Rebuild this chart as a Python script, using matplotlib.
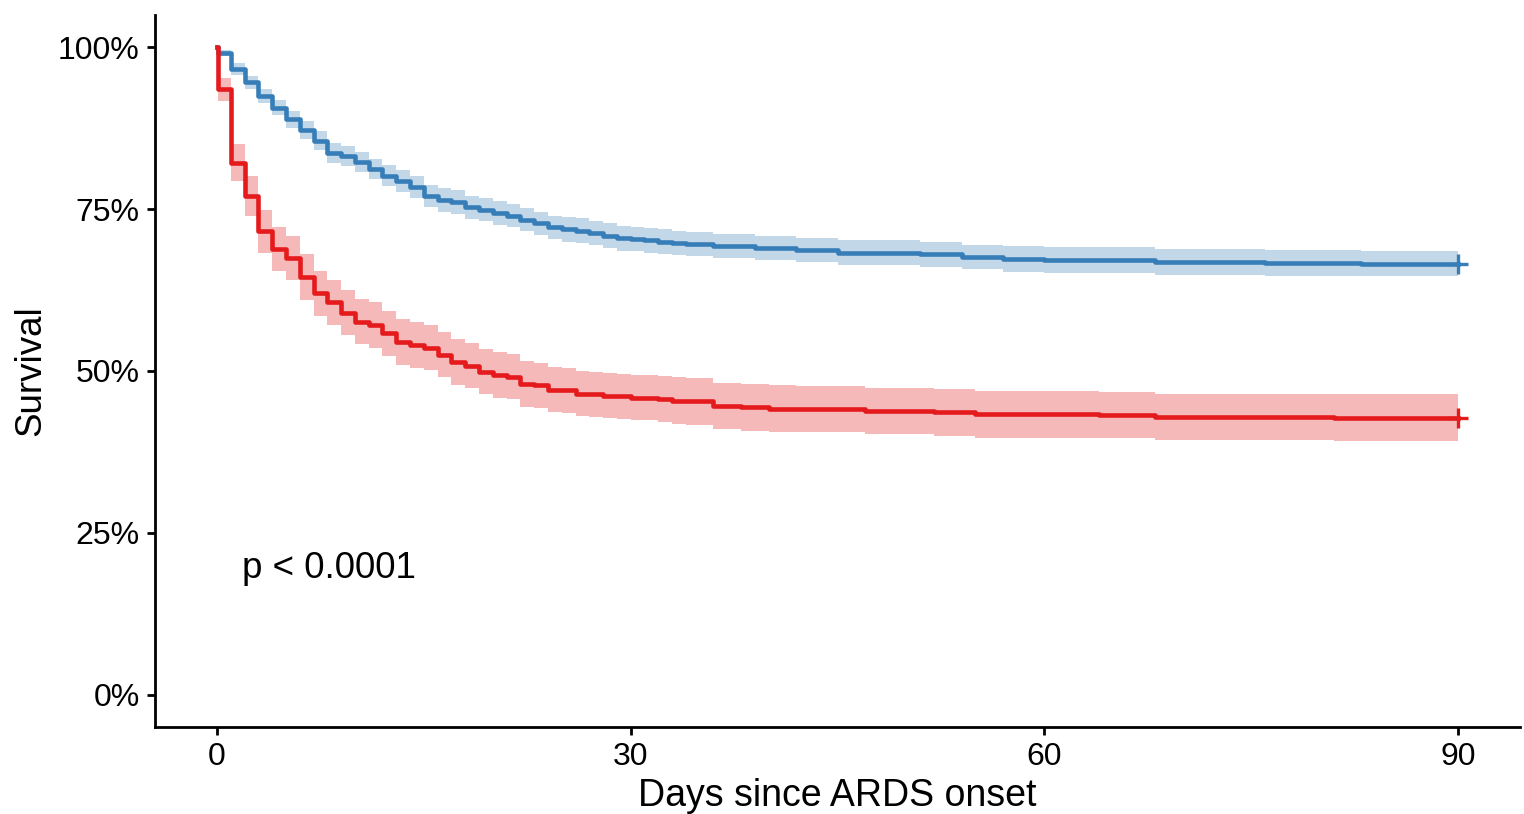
import matplotlib.pyplot as plt
import numpy as np

plt.rcParams['font.family'] = ['Liberation Sans', 'DejaVu Sans']

# Kaplan-Meier estimates (days, survival in %)
blue_t = [0, 0.05, 1, 2, 3, 4, 5, 6, 7, 8, 9, 10, 11, 12, 13, 14, 15, 16, 17, 18,
          19, 20, 21, 22, 23, 24, 25, 26, 27, 28, 29, 30, 31, 32, 33, 34, 36, 39,
          42, 45, 51, 54, 57, 60, 68, 76, 83, 90]
blue_s = [100, 99.1, 96.7, 94.6, 92.5, 90.7, 88.9, 87.2, 85.6, 83.7, 83.2, 82.3,
          81.2, 80.2, 79.3, 78.5, 77.1, 76.4, 76.1, 75.3, 74.9, 74.4, 74.0, 73.4,
          72.8, 72.2, 71.9, 71.7, 71.3, 70.9, 70.5, 70.4, 70.2, 70.0, 69.8, 69.6,
          69.3, 69.0, 68.7, 68.3, 68.0, 67.6, 67.3, 67.2, 66.9, 66.7, 66.6, 66.6]
blue_hw = [0, 0.5, 0.9, 1.0, 1.1, 1.2, 1.3, 1.4, 1.4, 1.5, 1.5, 1.6, 1.6, 1.6,
           1.7, 1.7, 1.7, 1.8, 1.8, 1.8, 1.8, 1.8, 1.8, 1.8, 1.8, 1.8, 1.9, 1.9,
           1.9, 1.9, 1.9, 1.9, 1.9, 1.9, 1.9, 1.9, 1.9, 1.9, 1.9, 1.9, 1.9, 1.9,
           2.0, 2.0, 2.0, 2.0, 2.0, 2.0]

red_t = [0, 0.1, 1, 2, 3, 4, 5, 6, 7, 8, 9, 10, 11, 12, 13, 14, 15, 16, 17, 18,
         19, 20, 21, 22, 23, 24, 25, 26, 27, 28, 29, 30, 32, 33, 34, 36, 38, 40,
         42, 47, 52, 55, 64, 68, 81, 90]
red_s = [100, 93.5, 82.2, 77.1, 71.6, 68.8, 67.4, 64.5, 62.0, 60.6, 59.0, 57.6,
         57.1, 55.8, 54.5, 54.0, 53.6, 52.5, 51.4, 50.8, 49.9, 49.4, 49.1, 48.0,
         47.8, 47.1, 47.0, 46.5, 46.4, 46.2, 46.1, 45.9, 45.7, 45.4, 45.3, 44.6,
         44.4, 44.2, 44.1, 43.8, 43.6, 43.3, 43.2, 42.9, 42.8, 42.8]
red_hw = [0, 1.8, 2.8, 3.1, 3.3, 3.4, 3.4, 3.5, 3.5, 3.5, 3.5, 3.5, 3.5, 3.5,
          3.5, 3.5, 3.5, 3.5, 3.5, 3.5, 3.5, 3.5, 3.5, 3.5, 3.5, 3.5, 3.5, 3.5,
          3.5, 3.5, 3.5, 3.5, 3.6, 3.6, 3.6, 3.6, 3.6, 3.6, 3.6, 3.6, 3.6, 3.6,
          3.6, 3.6, 3.6, 3.6]

x_ticks = [0, 30, 60, 90]
y_ticks = [0, 25, 50, 75, 100]
y_ticklabels = ['0%', '25%', '50%', '75%', '100%']

fig = plt.figure(figsize=(15.24, 8.14), dpi=100)
ax = fig.add_axes([0.1017, 0.1069, 0.8957, 0.8747])

for t, s, hw, col in [(blue_t, blue_s, blue_hw, '#377EB8'),
                      (red_t, red_s, red_hw, '#E41A1C')]:
    t = np.array(t)
    s = np.array(s)
    hw = np.array(hw)
    ax.fill_between(t, s - hw, s + hw, step='post', color=col, alpha=0.3, lw=0)
    ax.step(t, s, where='post', color=col, lw=3.3)
    ax.plot([t[-1]], [s[-1]], marker='+', color=col, ms=14, mew=2.4)

ax.text(1.8, 19.5, 'p < 0.0001', fontsize=26.5, ha='left', va='center')

ax.set_xlim(-4.5, 94.5)
ax.set_ylim(-5, 105)
ax.set_xticks(x_ticks)
ax.set_yticks(y_ticks)
ax.set_yticklabels(y_ticklabels)
ax.tick_params(labelsize=23, length=6, width=2, color='black', pad=5)
ax.set_xlabel('Days since ARDS onset', fontsize=27, labelpad=4)
ax.set_ylabel('Survival', fontsize=26.5, labelpad=7)

for side in ['top', 'right']:
    ax.spines[side].set_visible(False)
for side in ['left', 'bottom']:
    ax.spines[side].set_linewidth(2)

plt.savefig('out.png', dpi=100)
